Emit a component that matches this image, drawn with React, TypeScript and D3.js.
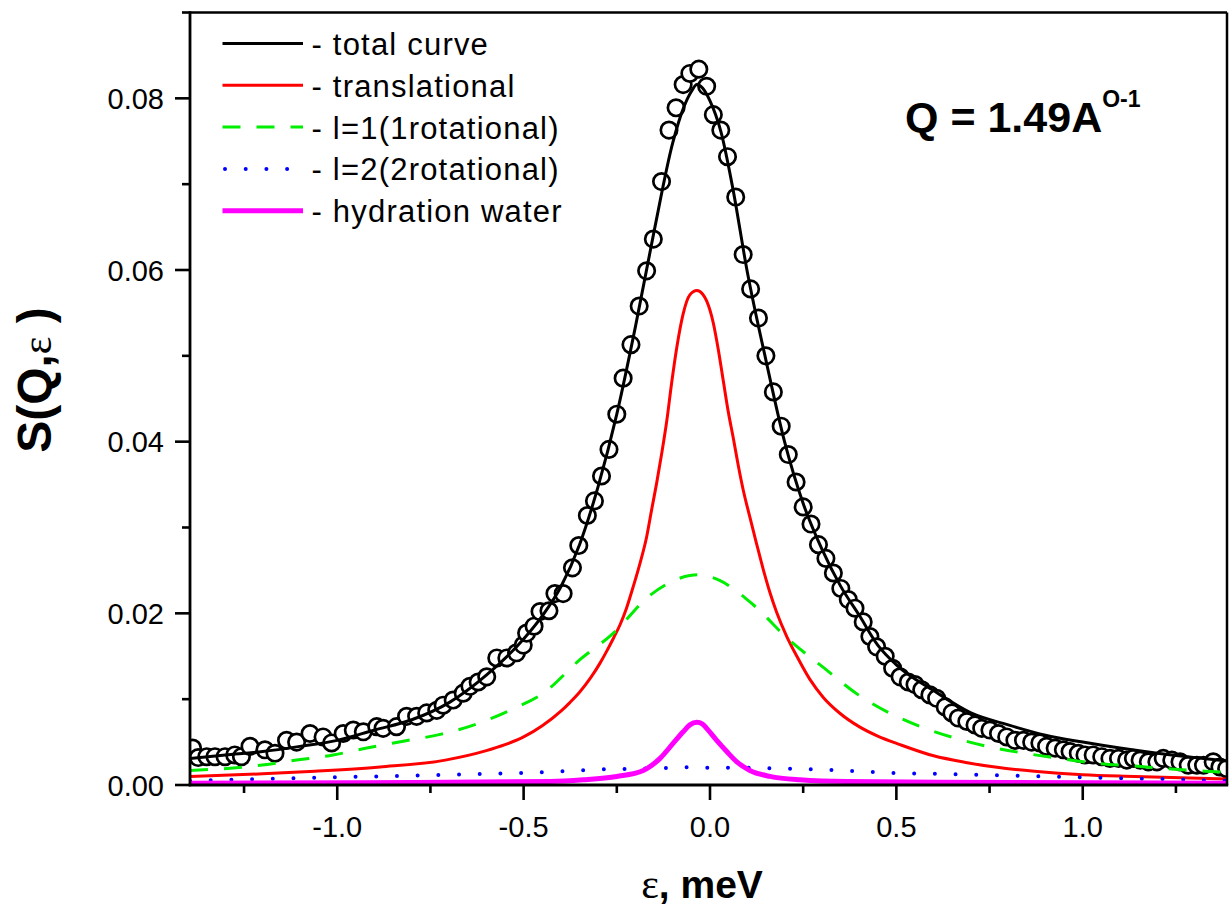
import React from "react";
import * as d3 from "d3";

// measured data points (open circles): energy transfer (meV) and S(Q,e)
const dataE = [
  -1.388, -1.373, -1.35, -1.328, -1.301, -1.275, -1.257, -1.234, -1.194, -1.167,
  -1.136, -1.109, -1.073, -1.038, -1.015, -0.984, -0.957, -0.93, -0.894, -0.877,
  -0.841, -0.814, -0.787, -0.76, -0.733, -0.716, -0.689, -0.662, -0.644, -0.622,
  -0.599, -0.572, -0.545, -0.519, -0.501, -0.492, -0.472, -0.456, -0.432, -0.416,
  -0.394, -0.369, -0.352, -0.329, -0.31, -0.291, -0.271, -0.25, -0.233, -0.212,
  -0.19, -0.17, -0.152, -0.13, -0.11, -0.091, -0.072, -0.054, -0.03, -0.009,
  0.009, 0.029, 0.047, 0.069, 0.089, 0.109, 0.13, 0.15, 0.17, 0.191,
  0.21, 0.231, 0.25, 0.271, 0.291, 0.311, 0.331, 0.351, 0.371, 0.389,
  0.411, 0.429, 0.447, 0.47, 0.49, 0.51, 0.532, 0.55, 0.568, 0.59,
  0.608, 0.631, 0.649, 0.666, 0.689, 0.711, 0.729, 0.751, 0.774, 0.796,
  0.818, 0.841, 0.863, 0.885, 0.903, 0.926, 0.948, 0.966, 0.988, 1.006,
  1.028, 1.051, 1.073, 1.096, 1.118, 1.136, 1.154, 1.176, 1.199, 1.216,
  1.239, 1.261, 1.283, 1.306, 1.324, 1.35, 1.368, 1.386,
];
const dataS = [
  0.0043, 0.0032, 0.0033, 0.0033, 0.0033, 0.0035, 0.0033, 0.0045, 0.0041, 0.0037,
  0.0052, 0.005, 0.006, 0.0056, 0.0049, 0.006, 0.0064, 0.0062, 0.0068, 0.0066,
  0.0068, 0.008, 0.008, 0.0084, 0.0087, 0.0093, 0.0099, 0.0107, 0.0115, 0.012,
  0.0126, 0.0148, 0.0148, 0.0154, 0.0163, 0.0177, 0.0185, 0.0202, 0.0203, 0.0223,
  0.0223, 0.0253, 0.0279, 0.0314, 0.0331, 0.036, 0.0391, 0.0432, 0.0474, 0.0513,
  0.0558, 0.0599, 0.0636, 0.0703, 0.0763, 0.0789, 0.0816, 0.0829, 0.0834, 0.0814,
  0.0781, 0.0763, 0.0732, 0.0685, 0.0618, 0.0578, 0.0544, 0.05, 0.0458, 0.0418,
  0.0385, 0.0353, 0.0324, 0.0304, 0.028, 0.0264, 0.0247, 0.0229, 0.0216, 0.0206,
  0.019, 0.0173, 0.0161, 0.015, 0.0136, 0.0126, 0.012, 0.0117, 0.0111, 0.0105,
  0.0101, 0.0091, 0.0084, 0.0078, 0.0074, 0.007, 0.0066, 0.0064, 0.006, 0.0056,
  0.0052, 0.0052, 0.005, 0.0049, 0.0045, 0.0043, 0.0041, 0.0039, 0.0037, 0.0035,
  0.0035, 0.0033, 0.0031, 0.0031, 0.0029, 0.0031, 0.0029, 0.0027, 0.0027, 0.0031,
  0.0029, 0.0027, 0.0023, 0.0023, 0.0023, 0.0027, 0.0021, 0.0019,
];

// total fitted curve
const totalE = [
  -1.395, -1.3, -1.2, -1.1, -1.0, -0.9, -0.8, -0.7, -0.6, -0.5, -0.45, -0.4, -0.35,
  -0.3, -0.25, -0.2, -0.15, -0.1, -0.07, -0.05, -0.035, -0.02, 0, 0.03, 0.06, 0.1,
  0.15, 0.2, 0.25, 0.3, 0.35, 0.4, 0.45, 0.5, 0.6, 0.7, 0.8, 0.9, 1.0, 1.1, 1.2,
  1.3, 1.387,
];
const totalS = [
  0.0031, 0.0035, 0.0039, 0.0045, 0.0052, 0.0064, 0.0076, 0.0096, 0.0128, 0.017,
  0.0197, 0.0231, 0.028, 0.0348, 0.0432, 0.0534, 0.0645, 0.0748, 0.079, 0.0808,
  0.0816, 0.0812, 0.0797, 0.076, 0.0698, 0.0598, 0.0495, 0.04, 0.0328, 0.0275,
  0.0232, 0.0198, 0.0163, 0.014, 0.011, 0.0084, 0.007, 0.0058, 0.005, 0.0043,
  0.0037, 0.0032, 0.0028,
];

// translational component
const transE = [
  -1.395, -1.2, -1.06, -0.885, -0.71, -0.6, -0.55, -0.5, -0.45, -0.4, -0.376,
  -0.35, -0.32, -0.295, -0.277, -0.259, -0.241, -0.224, -0.206, -0.188, -0.17,
  -0.156, -0.143, -0.13, -0.116, -0.103, -0.089, -0.072, -0.054, -0.035, -0.02,
  -0.009, 0.009, 0.022, 0.036, 0.049, 0.063, 0.076, 0.089, 0.107, 0.125, 0.143,
  0.161, 0.179, 0.206, 0.233, 0.268, 0.304, 0.35, 0.4, 0.45, 0.51, 0.6, 0.69, 0.78,
  0.87, 1.0, 1.14, 1.387,
];
const transS = [
  0.001, 0.0013, 0.0016, 0.0021, 0.0029, 0.004, 0.0047, 0.0056, 0.0069, 0.0086,
  0.0096, 0.0108, 0.0125, 0.0142, 0.0156, 0.0171, 0.0187, 0.0206, 0.0231, 0.0258,
  0.0289, 0.0322, 0.0352, 0.0385, 0.0424, 0.0468, 0.051, 0.0549, 0.0571, 0.0576,
  0.0572, 0.0564, 0.0538, 0.0508, 0.047, 0.0435, 0.0403, 0.0372, 0.0344, 0.0312,
  0.0281, 0.0251, 0.0224, 0.0201, 0.0173, 0.015, 0.0123, 0.0102, 0.0083, 0.0068,
  0.0057, 0.0047, 0.0034, 0.0026, 0.002, 0.0016, 0.0012, 0.001, 0.0007,
];

// l=1 rotational component
const rot1E = [
  -1.395, -1.306, -1.207, -1.109, -1.011, -0.921, -0.823, -0.724, -0.626, -0.537,
  -0.447, -0.349, -0.259, -0.161, -0.054, -0.03, 0.027, 0.116, 0.21, 0.304, 0.398,
  0.51, 0.59, 0.671, 0.765, 0.859, 0.953, 1.042, 1.14, 1.23, 1.329, 1.387,
];
const rot1S = [
  0.0017, 0.0019, 0.0023, 0.0029, 0.0035, 0.0043, 0.0051, 0.0059, 0.0071, 0.0087,
  0.0107, 0.0146, 0.0177, 0.0221, 0.0244, 0.0245, 0.0238, 0.021, 0.017, 0.0137,
  0.0105, 0.0078, 0.0064, 0.0053, 0.0043, 0.0036, 0.003, 0.0025, 0.0022, 0.0019,
  0.0016, 0.0015,
];

// l=2 rotational component
const rot2E = [
  -1.395, -1.2, -1.0, -0.8, -0.6, -0.5, -0.4, -0.3, -0.2, -0.1, -0.04, 0, 0.1, 0.2,
  0.3, 0.4, 0.5, 0.6, 0.8, 1.0, 1.2, 1.387,
];
const rot2S = [
  0.0005, 0.0007, 0.0009, 0.0011, 0.0013, 0.0014, 0.0016, 0.0018, 0.0019, 0.002,
  0.0021, 0.002, 0.002, 0.0019, 0.0018, 0.0016, 0.0014, 0.0013, 0.0011, 0.0009,
  0.0007, 0.0005,
];

// hydration water component
const hydE = [
  -1.395, -0.8, -0.429, -0.34, -0.25, -0.179, -0.134, -0.098, -0.072, -0.054,
  -0.035, -0.02, -0.009, 0.018, 0.045, 0.072, 0.107, 0.161, 0.241, 0.367, 0.8,
  1.387,
];
const hydS = [
  0.0002, 0.0003, 0.0004, 0.0006, 0.001, 0.0017, 0.0031, 0.0049, 0.0062, 0.007,
  0.0073, 0.0071, 0.0066, 0.0052, 0.0039, 0.0027, 0.0017, 0.001, 0.0006, 0.0004,
  0.0003, 0.0002,
];

const xMajor = [-1.0, -0.5, 0.0, 0.5, 1.0];
const xMajorLabels = ["-1.0", "-0.5", "0.0", "0.5", "1.0"];
const xMinor = [-1.25, -0.75, -0.25, 0.25, 0.75, 1.25];
const yMajor = [0, 0.02, 0.04, 0.06, 0.08];
const yMajorLabels = ["0.00", "0.02", "0.04", "0.06", "0.08"];
const yMinor = [0.01, 0.03, 0.05, 0.07, 0.09];

const legendLabels = [
  "- total curve",
  "- translational",
  "- l=1(1rotational)",
  "- l=2(2rotational)",
  "- hydration water",
];

const SANS = "'Liberation Sans', Arial, Helvetica, sans-serif";
const SERIF = "'Liberation Serif', 'Times New Roman', serif";

export default function App() {
  const W = 1229;
  const H = 908;
  const left = 190;
  const right = 1227;
  const top = 12.5;
  const bottom = 785;

  const x = d3.scaleLinear().domain([-1.395, 1.387]).range([left, right]);
  const y = d3.scaleLinear().domain([0, 0.09]).range([bottom, top]);

  const mk = (xs: number[], ys: number[]) =>
    d3
      .line<number>()
      .x((_, i) => x(xs[i]))
      .y((d) => y(d))
      .curve(d3.curveMonotoneX)(ys) || "";

  const styles = [
    { stroke: "#000000", width: 3, dash: undefined as string | undefined, cap: "butt" },
    { stroke: "#ff0000", width: 3, dash: undefined, cap: "butt" },
    { stroke: "#00ee00", width: 3, dash: "18,16", cap: "butt" },
    { stroke: "#0000ff", width: 4, dash: "0,20.7", cap: "round" },
    { stroke: "#ff00ff", width: 5, dash: undefined, cap: "butt" },
  ];
  const series = [
    mk(totalE, totalS),
    mk(transE, transS),
    mk(rot1E, rot1S),
    mk(rot2E, rot2S),
    mk(hydE, hydS),
  ];

  const legendY0 = 43.5;
  const legendStep = 41.8;

  return (
    <svg
      width={W}
      height={H}
      style={{ position: "absolute", left: 0, top: 0, background: "#fff" }}
    >
      <defs>
        <clipPath id="plotClip">
          <rect x={left} y={top} width={right - left} height={bottom - top} />
        </clipPath>
      </defs>
      <rect x={0} y={0} width={W} height={H} fill="#fff" />

      <g clipPath="url(#plotClip)">
        {dataE.map((e, i) => (
          <circle
            key={i}
            cx={x(e)}
            cy={y(dataS[i])}
            r={8.2}
            fill="#fff"
            stroke="#000"
            strokeWidth={2.7}
          />
        ))}
        {series.map((d, i) => (
          <path
            key={i}
            d={d}
            fill="none"
            stroke={styles[i].stroke}
            strokeWidth={styles[i].width}
            strokeDasharray={styles[i].dash}
            strokeLinecap={styles[i].cap as any}
            strokeLinejoin="round"
          />
        ))}
      </g>

      {/* frame */}
      <line x1={left} y1={top} x2={right} y2={top} stroke="#000" strokeWidth={2.5} />
      <line x1={right} y1={top} x2={right} y2={bottom} stroke="#000" strokeWidth={2.5} />
      <line x1={left - 1.25} y1={bottom} x2={right + 1.25} y2={bottom} stroke="#000" strokeWidth={2.8} />
      <line x1={left} y1={top - 1.25} x2={left} y2={bottom + 1.25} stroke="#000" strokeWidth={2.8} />

      {/* x ticks */}
      {xMajor.map((v, i) => (
        <g key={"xm" + i}>
          <line x1={x(v)} x2={x(v)} y1={bottom} y2={bottom + 15} stroke="#000" strokeWidth={2.6} />
          <text
            x={x(v)}
            y={837}
            textAnchor="middle"
            fontFamily={SANS}
            fontSize={29}
            fill="#000"
          >
            {xMajorLabels[i]}
          </text>
        </g>
      ))}
      {xMinor.map((v, i) => (
        <line key={"xn" + i} x1={x(v)} x2={x(v)} y1={bottom} y2={bottom + 8} stroke="#000" strokeWidth={2.6} />
      ))}

      {/* y ticks */}
      {yMajor.map((v, i) => (
        <g key={"ym" + i}>
          <line x1={left - 15} x2={left} y1={y(v)} y2={y(v)} stroke="#000" strokeWidth={2.6} />
          <text
            x={164}
            y={y(v) + 10.5}
            textAnchor="end"
            fontFamily={SANS}
            fontSize={29}
            fill="#000"
          >
            {yMajorLabels[i]}
          </text>
        </g>
      ))}
      {yMinor.map((v, i) => (
        <line key={"yn" + i} x1={left - 8} x2={left} y1={y(v)} y2={y(v)} stroke="#000" strokeWidth={2.6} />
      ))}

      {/* axis titles */}
      <text x={702} y={898} textAnchor="middle" fontFamily={SANS} fontSize={39} fontWeight="bold" fill="#000">
        <tspan fontFamily={SERIF} fontWeight="normal" fontSize={42}>ε</tspan>
        <tspan>, meV</tspan>
      </text>
      <text
        transform="translate(51,380) rotate(-90)"
        textAnchor="middle"
        fontFamily={SANS}
        fontSize={48}
        fontWeight="bold"
        fill="#000"
      >
        <tspan>S(Q,</tspan>
        <tspan fontFamily={SERIF} fontWeight="normal" fontSize={42}>ε</tspan>
        <tspan> )</tspan>
      </text>

      {/* Q annotation */}
      <text x={905} y={131.5} fontFamily={SANS} fontSize={43} fontWeight="bold" fill="#000">
        <tspan>Q = 1.49A</tspan>
        <tspan fontSize={23} dy={-25}>O-1</tspan>
      </text>

      {/* legend */}
      {legendLabels.map((lab, i) => {
        const ly = legendY0 + i * legendStep;
        const st = styles[i];
        return (
          <g key={"lg" + i}>
            <line
              x1={i === 3 ? 225 : 222.5}
              x2={303}
              y1={ly}
              y2={ly}
              stroke={st.stroke}
              strokeWidth={st.width}
              strokeDasharray={st.dash}
              strokeLinecap={st.cap as any}
            />
            <text
              x={311.5}
              y={ly + 11.5}
              fontFamily={SANS}
              fontSize={31}
              letterSpacing={1.2}
              fill="#000"
            >
              {lab}
            </text>
          </g>
        );
      })}
    </svg>
  );
}
